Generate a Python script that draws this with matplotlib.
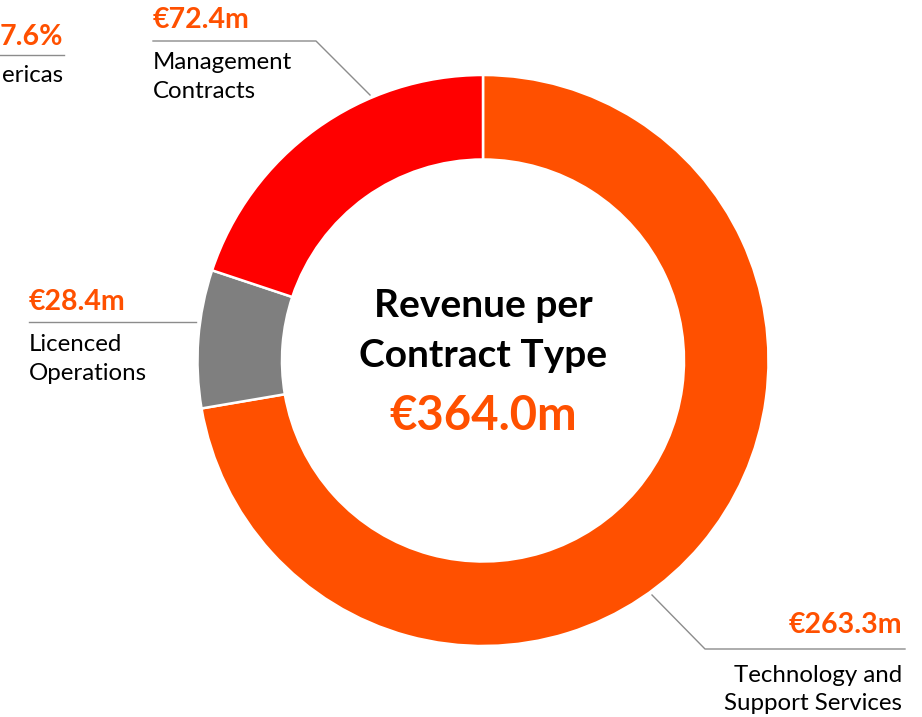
import matplotlib.pyplot as plt

plt.rcParams['font.family'] = ['Lato', 'DejaVu Sans']

# Revenue per contract type (EUR m)
categories = ['Technology and\nSupport Services', 'Licenced\nOperations', 'Management\nContracts']
revenue = [263.3, 28.4, 72.4]
value_labels = ['€263.3m', '€28.4m', '€72.4m']
total_label = '€364.0m'
colors = ['#FF5000', '#7F7F7F', '#FF0000']

ORANGE = '#FF5000'
LINE = '#8C8C8C'
W, H = 922, 717
LBL = 20.5   # bold value labels
TXT = 17.3   # category text


def Y(y):
    # pixel row (from top) -> data y
    return H - y


if __name__ == '__main__':
    fig = plt.figure(figsize=(W / 100, H / 100), dpi=100)
    ax = fig.add_axes([0, 0, 1, 1])

    # donut
    ax.pie(revenue, colors=colors, startangle=90, counterclock=False,
           center=(483, Y(360.5)), radius=285.5, frame=True,
           wedgeprops=dict(width=84.5, edgecolor='white', linewidth=1.8))
    ax.set_xlim(0, W)
    ax.set_ylim(0, H)
    ax.set_aspect('equal')
    ax.axis('off')

    # centre text
    ax.text(483, Y(317), 'Revenue per', ha='center', va='baseline',
            fontsize=28, fontweight='bold', color='black')
    ax.text(483, Y(367), 'Contract Type', ha='center', va='baseline',
            fontsize=28, fontweight='bold', color='black')
    ax.text(483, Y(430), total_label, ha='center', va='baseline',
            fontsize=34, fontweight='bold', color=ORANGE)

    # Management Contracts (top left)
    ax.plot([153, 316, 370], [Y(41), Y(41), Y(95)], color=LINE, lw=1)
    ax.text(153, Y(28), value_labels[2], ha='left', va='baseline',
            fontsize=LBL, fontweight='bold', color=ORANGE)
    for i, line in enumerate(categories[2].split('\n')):
        ax.text(153, Y(69 + 29 * i), line, ha='left', va='baseline',
                fontsize=TXT, color='black')

    # Licenced Operations (left)
    ax.plot([29, 196], [Y(322), Y(322)], color=LINE, lw=1)
    ax.text(29, Y(310), value_labels[1], ha='left', va='baseline',
            fontsize=LBL, fontweight='bold', color=ORANGE)
    for i, line in enumerate(categories[1].split('\n')):
        ax.text(29, Y(351 + 28.5 * i), line, ha='left', va='baseline',
                fontsize=TXT, color='black')

    # Technology and Support Services (bottom right)
    ax.plot([652, 705, 905], [Y(595), Y(649), Y(649)], color=LINE, lw=1)
    ax.text(902, Y(633), value_labels[0], ha='right', va='baseline',
            fontsize=LBL, fontweight='bold', color=ORANGE)
    for i, line in enumerate(categories[0].split('\n')):
        ax.text(902, Y(682 + 28 * i), line, ha='right', va='baseline',
                fontsize=TXT, color='black')

    # clipped neighbouring chart label at the top left edge
    ax.plot([0, 64], [Y(55), Y(55)], color=LINE, lw=1)
    ax.text(63, Y(45), '7.6%', ha='right', va='baseline',
            fontsize=LBL, fontweight='bold', color=ORANGE)
    ax.text(63, Y(82), 'ericas', ha='right', va='baseline',
            fontsize=TXT, color='black')

    fig.savefig('out.png', dpi=100)
    plt.close(fig)
